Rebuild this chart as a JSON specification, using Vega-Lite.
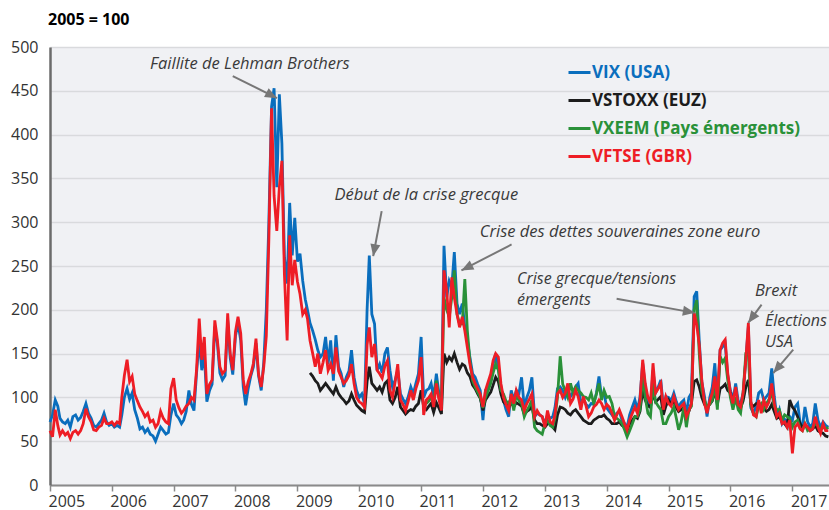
{
"$schema": "https://vega.github.io/schema/vega-lite/v6.json",
"width": 779, "height": 438,
"autosize": {"type": "none"},
"padding": {"left": 50, "top": 47, "right": 0, "bottom": 25},
"background": "white",
"title": {"text": "2005 = 100", "anchor": "start", "frame": "group", "orient": "top", "dx": -2, "offset": 11, "font": "Open Sans", "fontSize": 16, "fontWeight": "bold", "color": "#000000"},
"config": {"view": {"fill": "#F0F1F4", "stroke": null}, "font": "Open Sans"},
"data": {"values": [
{"d":"2005-01-01","a":72,"e":62},{"d":"2005-01-16","a":80,"e":55},{"d":"2005-02-01","a":97,"e":86},{"d":"2005-02-16","a":90,"e":68},{"d":"2005-03-01","a":76,"e":57},{"d":"2005-03-16","a":72,"e":62},{"d":"2005-04-01","a":70,"e":57},{"d":"2005-04-16","a":74,"e":60},{"d":"2005-05-01","a":66,"e":53},{"d":"2005-05-16","a":78,"e":60},{"d":"2005-06-01","a":80,"e":62},{"d":"2005-06-16","a":74,"e":58},{"d":"2005-07-01","a":77,"e":62},{"d":"2005-07-16","a":84,"e":70},{"d":"2005-08-01","a":93,"e":87},{"d":"2005-08-16","a":82,"e":78},{"d":"2005-09-01","a":76,"e":72},{"d":"2005-09-16","a":68,"e":63},{"d":"2005-10-01","a":66,"e":62},{"d":"2005-10-16","a":70,"e":66},{"d":"2005-11-01","a":74,"e":68},{"d":"2005-11-16","a":82,"e":76},{"d":"2005-12-01","a":72,"e":70},{"d":"2005-12-16","a":68,"e":70},
{"d":"2006-01-01","a":70,"e":72},{"d":"2006-01-16","a":66,"e":68},{"d":"2006-02-01","a":68,"e":72},{"d":"2006-02-16","a":66,"e":70},{"d":"2006-03-01","a":80,"e":100},{"d":"2006-03-16","a":100,"e":125},{"d":"2006-04-01","a":110,"e":143},{"d":"2006-04-16","a":98,"e":118},{"d":"2006-05-01","a":105,"e":124},{"d":"2006-05-16","a":86,"e":104},{"d":"2006-06-01","a":76,"e":96},{"d":"2006-06-16","a":64,"e":89},{"d":"2006-07-01","a":66,"e":84},{"d":"2006-07-16","a":60,"e":78},{"d":"2006-08-01","a":64,"e":82},{"d":"2006-08-16","a":58,"e":72},{"d":"2006-09-01","a":56,"e":74},{"d":"2006-09-16","a":50,"e":66},{"d":"2006-10-01","a":58,"e":70},{"d":"2006-10-16","a":66,"e":84},{"d":"2006-11-01","a":62,"e":76},{"d":"2006-11-16","a":58,"e":72},{"d":"2006-12-01","a":60,"e":70},{"d":"2006-12-16","a":80,"e":110},
{"d":"2007-01-01","a":93,"e":122},{"d":"2007-01-16","a":80,"e":97},{"d":"2007-02-01","a":76,"e":88},{"d":"2007-02-16","a":70,"e":82},{"d":"2007-03-01","a":74,"e":85},{"d":"2007-03-16","a":84,"e":90},{"d":"2007-04-01","a":108,"e":93},{"d":"2007-04-16","a":92,"e":100},{"d":"2007-05-01","a":85,"e":97},{"d":"2007-05-16","a":127,"e":131},{"d":"2007-06-01","a":166,"e":190},{"d":"2007-06-16","a":131,"e":143},{"d":"2007-07-01","a":150,"e":169},{"d":"2007-07-16","a":95,"e":104},{"d":"2007-08-01","a":108,"e":115},{"d":"2007-08-16","a":115,"e":120},{"d":"2007-09-01","a":181,"e":188},{"d":"2007-09-16","a":162,"e":166},{"d":"2007-10-01","a":128,"e":135},{"d":"2007-10-16","a":120,"e":127},{"d":"2007-11-01","a":125,"e":131},{"d":"2007-11-16","a":188,"e":196},{"d":"2007-12-01","a":145,"e":150},{"d":"2007-12-16","a":126,"e":131},
{"d":"2008-01-01","a":170,"e":175},{"d":"2008-01-16","a":185,"e":192},{"d":"2008-02-01","a":165,"e":173},{"d":"2008-02-16","a":112,"e":120},{"d":"2008-03-01","a":91,"e":104},{"d":"2008-03-16","a":110,"e":118},{"d":"2008-04-01","a":125,"e":127},{"d":"2008-04-16","a":135,"e":139},{"d":"2008-05-01","a":162,"e":167},{"d":"2008-05-16","a":125,"e":127},{"d":"2008-06-01","a":108,"e":112},{"d":"2008-06-16","a":140,"e":135},{"d":"2008-07-01","a":200,"e":170},{"d":"2008-07-16","a":300,"e":280},{"d":"2008-08-01","a":432,"e":430},{"d":"2008-08-16","a":453,"e":330},{"d":"2008-09-01","a":340,"e":290},{"d":"2008-09-16","a":446,"e":340},{"d":"2008-10-01","a":390,"e":370},{"d":"2008-10-16","a":260,"e":240},{"d":"2008-11-01","a":230,"e":165},{"d":"2008-11-16","a":322,"e":285},{"d":"2008-12-01","a":262,"e":228},{"d":"2008-12-16","a":305,"e":257},
{"d":"2009-01-01","a":255,"e":232},{"d":"2009-01-16","a":264,"e":218},{"d":"2009-02-01","a":233,"e":195},{"d":"2009-02-16","a":212,"e":200},{"d":"2009-03-01","a":200,"e":190},{"d":"2009-03-16","a":185,"b":128,"e":165},{"d":"2009-04-01","a":176,"b":124,"e":150},{"d":"2009-04-16","a":166,"b":119,"e":135},{"d":"2009-05-01","a":154,"b":116,"e":150},{"d":"2009-05-16","a":146,"b":108,"e":127},{"d":"2009-06-01","a":150,"b":112,"e":140},{"d":"2009-06-16","a":169,"b":116,"e":154},{"d":"2009-07-01","a":138,"b":112,"e":131},{"d":"2009-07-16","a":165,"b":108,"e":138},{"d":"2009-08-01","a":119,"b":104,"e":127},{"d":"2009-08-16","a":171,"b":112,"e":157},{"d":"2009-09-01","a":135,"b":104,"e":130},{"d":"2009-09-16","a":127,"b":100,"e":123},{"d":"2009-10-01","a":112,"b":97,"e":116},{"d":"2009-10-16","a":123,"b":93,"e":119},{"d":"2009-11-01","a":130,"b":96,"e":125},{"d":"2009-11-16","a":154,"b":104,"e":138},{"d":"2009-12-01","a":123,"b":97,"e":116},{"d":"2009-12-16","a":108,"b":91,"e":100},
{"d":"2010-01-01","a":100,"b":88,"e":95},{"d":"2010-01-16","a":104,"b":85,"e":93},{"d":"2010-02-01","a":93,"b":83,"e":89},{"d":"2010-02-16","a":200,"b":118,"e":160},{"d":"2010-03-01","a":262,"b":135,"e":180},{"d":"2010-03-16","a":195,"b":116,"e":146},{"d":"2010-04-01","a":184,"b":112,"e":161},{"d":"2010-04-16","a":131,"b":108,"e":131},{"d":"2010-05-01","a":138,"b":112,"e":127},{"d":"2010-05-16","a":128,"b":106,"e":122},{"d":"2010-06-01","a":150,"b":116,"e":136},{"d":"2010-06-16","a":157,"b":119,"e":142},{"d":"2010-07-01","a":131,"b":97,"e":108},{"d":"2010-07-16","a":112,"b":93,"e":100},{"d":"2010-08-01","a":120,"b":100,"e":118},{"d":"2010-08-16","a":131,"b":112,"e":138},{"d":"2010-09-01","a":104,"b":89,"e":97},{"d":"2010-09-16","a":98,"b":85,"e":92},{"d":"2010-10-01","a":93,"b":81,"e":85},{"d":"2010-10-16","a":100,"b":84,"e":95},{"d":"2010-11-01","a":112,"b":86,"e":108},{"d":"2010-11-16","a":104,"b":85,"e":97},{"d":"2010-12-01","a":116,"b":90,"e":110},{"d":"2010-12-16","a":127,"b":93,"e":119},
{"d":"2011-01-01","a":169,"b":108,"e":146},{"d":"2011-01-16","a":100,"b":89,"e":80},{"d":"2011-02-01","a":108,"b":86,"c":93,"e":97},{"d":"2011-02-16","a":110,"b":90,"c":96,"e":100},{"d":"2011-03-01","a":116,"b":93,"c":100,"e":104},{"d":"2011-03-16","a":100,"b":83,"c":96,"e":89},{"d":"2011-04-01","a":127,"b":94,"c":119,"e":116},{"d":"2011-04-16","a":105,"b":88,"c":100,"e":98},{"d":"2011-05-01","a":93,"b":81,"c":89,"e":85},{"d":"2011-05-16","a":273,"b":150,"c":214,"e":245},{"d":"2011-06-01","a":214,"b":140,"c":200,"e":222},{"d":"2011-06-16","a":233,"b":146,"c":192,"e":180},{"d":"2011-07-01","a":226,"b":142,"c":214,"e":237},{"d":"2011-07-16","a":266,"b":150,"c":245,"e":214},{"d":"2011-08-01","a":207,"b":140,"c":195,"e":195},{"d":"2011-08-16","a":195,"b":132,"c":184,"e":180},{"d":"2011-09-01","a":207,"b":138,"c":184,"e":192},{"d":"2011-09-16","a":180,"b":136,"c":235,"e":176},{"d":"2011-10-01","a":165,"b":128,"c":176,"e":157},{"d":"2011-10-16","a":146,"b":124,"c":142,"e":138},{"d":"2011-11-01","a":127,"b":114,"c":119,"e":123},{"d":"2011-11-16","a":123,"b":110,"c":112,"e":116},{"d":"2011-12-01","a":115,"b":104,"c":106,"e":110},{"d":"2011-12-16","a":108,"b":99,"c":100,"e":104},
{"d":"2012-01-01","a":74,"b":85,"c":88,"e":89},{"d":"2012-01-16","a":108,"b":97,"c":100,"e":108},{"d":"2012-02-01","a":112,"b":102,"c":108,"e":118},{"d":"2012-02-16","a":119,"b":106,"c":116,"e":127},{"d":"2012-03-01","a":138,"b":114,"c":128,"e":142},{"d":"2012-03-16","a":150,"b":123,"c":138,"e":150},{"d":"2012-04-01","a":135,"b":118,"c":131,"e":146},{"d":"2012-04-16","a":112,"b":104,"c":108,"e":116},{"d":"2012-05-01","a":97,"b":95,"c":104,"e":100},{"d":"2012-05-16","a":86,"b":92,"c":96,"e":92},{"d":"2012-06-01","a":78,"b":89,"c":93,"e":85},{"d":"2012-06-16","a":108,"b":94,"c":100,"e":104},{"d":"2012-07-01","a":97,"b":89,"c":85,"e":93},{"d":"2012-07-16","a":108,"b":94,"c":104,"e":108},{"d":"2012-08-01","a":105,"b":92,"c":96,"e":100},{"d":"2012-08-16","a":123,"b":90,"c":93,"e":97},{"d":"2012-09-01","a":89,"b":81,"c":78,"e":85},{"d":"2012-09-16","a":100,"b":84,"c":85,"e":93},{"d":"2012-10-01","a":108,"b":86,"c":90,"e":98},{"d":"2012-10-16","a":123,"b":90,"c":97,"e":104},{"d":"2012-11-01","a":78,"b":74,"c":66,"e":78},{"d":"2012-11-16","a":82,"b":70,"c":62,"e":85},{"d":"2012-12-01","a":80,"b":70,"c":60,"e":80},{"d":"2012-12-16","a":78,"b":68,"c":58,"e":78},
{"d":"2013-01-01","a":70,"b":66,"c":70,"e":66},{"d":"2013-01-16","a":80,"b":70,"c":74,"e":85},{"d":"2013-02-01","a":76,"b":70,"c":68,"e":72},{"d":"2013-02-16","a":78,"b":66,"c":66,"e":70},{"d":"2013-03-01","a":88,"b":63,"c":76,"e":80},{"d":"2013-03-16","a":110,"b":80,"c":100,"e":104},{"d":"2013-04-01","a":112,"b":89,"c":147,"e":108},{"d":"2013-04-16","a":108,"b":88,"c":115,"e":100},{"d":"2013-05-01","a":100,"b":86,"c":108,"e":105},{"d":"2013-05-16","a":108,"b":82,"c":100,"e":116},{"d":"2013-06-01","a":101,"b":80,"c":116,"e":93},{"d":"2013-06-16","a":106,"b":84,"c":105,"e":98},{"d":"2013-07-01","a":112,"b":86,"c":112,"e":108},{"d":"2013-07-16","a":116,"b":82,"c":108,"e":101},{"d":"2013-08-01","a":93,"b":78,"c":105,"e":86},{"d":"2013-08-16","a":98,"b":74,"c":101,"e":101},{"d":"2013-09-01","a":92,"b":72,"c":100,"e":90},{"d":"2013-09-16","a":89,"b":70,"c":97,"e":78},{"d":"2013-10-01","a":93,"b":70,"c":105,"e":82},{"d":"2013-10-16","a":92,"b":74,"c":93,"e":89},{"d":"2013-11-01","a":105,"b":76,"c":104,"e":92},{"d":"2013-11-16","a":124,"b":78,"c":116,"e":97},{"d":"2013-12-01","a":101,"b":78,"c":97,"e":93},{"d":"2013-12-16","a":105,"b":80,"c":108,"e":86},
{"d":"2014-01-01","a":88,"b":76,"c":100,"e":92},{"d":"2014-01-16","a":84,"b":74,"c":101,"e":89},{"d":"2014-02-01","a":80,"b":70,"c":93,"e":82},{"d":"2014-02-16","a":76,"b":70,"c":78,"e":74},{"d":"2014-03-01","a":82,"b":70,"c":76,"e":80},{"d":"2014-03-16","a":84,"b":72,"c":74,"e":86},{"d":"2014-04-01","a":74,"b":68,"c":70,"e":78},{"d":"2014-04-16","a":70,"b":66,"c":63,"e":70},{"d":"2014-05-01","a":66,"b":62,"c":55,"e":63},{"d":"2014-05-16","a":80,"b":70,"c":62,"e":74},{"d":"2014-06-01","a":89,"b":74,"c":70,"e":82},{"d":"2014-06-16","a":97,"b":78,"c":78,"e":89},{"d":"2014-07-01","a":86,"b":76,"c":78,"e":82},{"d":"2014-07-16","a":100,"b":84,"c":86,"e":96},{"d":"2014-08-01","a":139,"b":108,"c":124,"e":143},{"d":"2014-08-16","a":112,"b":97,"c":100,"e":116},{"d":"2014-09-01","a":95,"b":90,"c":82,"e":100},{"d":"2014-09-16","a":89,"b":89,"c":78,"e":93},{"d":"2014-10-01","a":131,"b":105,"c":116,"e":139},{"d":"2014-10-16","a":105,"b":95,"c":95,"e":105},{"d":"2014-11-01","a":112,"b":98,"c":90,"e":110},{"d":"2014-11-16","a":120,"b":101,"c":86,"e":116},{"d":"2014-12-01","a":89,"b":80,"c":70,"e":86},{"d":"2014-12-16","a":101,"b":90,"c":70,"e":101},
{"d":"2015-01-01","a":100,"b":97,"c":78,"e":93},{"d":"2015-01-16","a":96,"b":92,"c":82,"e":90},{"d":"2015-02-01","a":105,"b":95,"c":89,"e":101},{"d":"2015-02-16","a":95,"b":88,"c":76,"e":92},{"d":"2015-03-01","a":89,"b":84,"c":63,"e":86},{"d":"2015-03-16","a":94,"b":86,"c":72,"e":90},{"d":"2015-04-01","a":97,"b":89,"c":89,"e":93},{"d":"2015-04-16","a":82,"b":80,"c":66,"e":78},{"d":"2015-05-01","a":100,"b":84,"c":86,"e":85},{"d":"2015-05-16","a":105,"b":93,"c":90,"e":93},{"d":"2015-06-01","a":215,"b":118,"c":200,"e":196},{"d":"2015-06-16","a":221,"b":120,"c":211,"e":183},{"d":"2015-07-01","a":165,"b":112,"c":150,"e":160},{"d":"2015-07-16","a":118,"b":100,"c":108,"e":120},{"d":"2015-08-01","a":101,"b":92,"c":97,"e":93},{"d":"2015-08-16","a":78,"b":89,"c":89,"e":82},{"d":"2015-09-01","a":100,"b":92,"c":92,"e":96},{"d":"2015-09-16","a":112,"b":96,"c":97,"e":105},{"d":"2015-10-01","a":139,"b":108,"c":115,"e":124},{"d":"2015-10-16","a":93,"b":92,"c":86,"e":97},{"d":"2015-11-01","a":154,"b":110,"c":147,"e":154},{"d":"2015-11-16","a":158,"b":112,"c":140,"e":162},{"d":"2015-12-01","a":162,"b":115,"c":145,"e":166},{"d":"2015-12-16","a":125,"b":108,"c":120,"e":128},
{"d":"2016-01-01","a":108,"b":105,"c":100,"e":105},{"d":"2016-01-16","a":97,"b":93,"c":86,"e":93},{"d":"2016-02-01","a":116,"b":97,"c":100,"e":112},{"d":"2016-02-16","a":96,"b":92,"c":86,"e":92},{"d":"2016-03-01","a":93,"b":88,"c":82,"e":89},{"d":"2016-03-16","a":105,"b":96,"c":105,"e":105},{"d":"2016-04-01","a":143,"b":112,"c":150,"e":143},{"d":"2016-04-16","a":181,"b":120,"c":150,"e":185},{"d":"2016-05-01","a":88,"b":92,"c":90,"e":95},{"d":"2016-05-16","a":82,"b":90,"c":82,"e":80},{"d":"2016-06-01","a":90,"b":93,"c":78,"e":78},{"d":"2016-06-16","a":105,"b":93,"c":90,"e":97},{"d":"2016-07-01","a":108,"b":89,"c":93,"e":82},{"d":"2016-07-16","a":97,"b":88,"c":86,"e":97},{"d":"2016-08-01","a":101,"b":84,"c":93,"e":89},{"d":"2016-08-16","a":105,"b":86,"c":98,"e":95},{"d":"2016-09-01","a":133,"b":92,"c":105,"e":116},{"d":"2016-09-16","a":101,"b":84,"c":90,"e":93},{"d":"2016-10-01","a":78,"b":76,"c":86,"e":78},{"d":"2016-10-16","a":86,"b":78,"c":86,"e":82},{"d":"2016-11-01","a":70,"b":72,"c":74,"e":70},{"d":"2016-11-16","a":75,"b":70,"c":80,"e":72},{"d":"2016-12-01","a":72,"b":66,"c":78,"e":66},{"d":"2016-12-16","a":78,"b":97,"c":76,"e":74},
{"d":"2017-01-01","a":74,"b":89,"c":66,"e":36},{"d":"2017-01-16","a":89,"b":85,"c":72,"e":66},{"d":"2017-02-01","a":93,"b":78,"c":74,"e":70},{"d":"2017-02-16","a":70,"b":70,"c":64,"e":64},{"d":"2017-03-01","a":66,"b":66,"c":62,"e":62},{"d":"2017-03-16","a":89,"b":68,"c":70,"e":70},{"d":"2017-04-01","a":72,"b":66,"c":62,"e":66},{"d":"2017-04-16","a":66,"b":62,"c":64,"e":62},{"d":"2017-05-01","a":70,"b":64,"c":66,"e":64},{"d":"2017-05-16","a":93,"b":68,"c":70,"e":78},{"d":"2017-06-01","a":74,"b":62,"c":68,"e":66},{"d":"2017-06-16","a":66,"b":60,"c":64,"e":59},{"d":"2017-07-01","a":72,"b":59,"c":66,"e":70},{"d":"2017-07-16","a":68,"b":56,"c":64,"e":62},{"d":"2017-08-01","a":66,"b":55,"c":66,"e":62}
]},
"layer": [
{"mark": {"type": "line", "strokeWidth": 2.8},
 "encoding": {
  "x": {"field": "d", "type": "temporal", "title": null,
   "scale": {"domain": [{"year": 2005, "month": 1, "date": 1}, {"year": 2017, "month": 8, "date": 5}]},
   "axis": {"format": "%Y", "tickCount": {"interval": "year", "step": 1}, "labelAlign": "left", "labelBaseline": "alphabetic", "labelOffset": -2, "labelFont": "Open Sans", "labelFontSize": 16, "labelColor": "#333333", "labelPadding": 15, "tickSize": 6, "tickColor": "#8a8a8a", "tickWidth": 1.5, "domainColor": "#8a8a8a", "domainWidth": 2, "grid": false, "labelOverlap": false, "labelFlush": false, "labelBound": false}},
  "y": {"field": "a", "type": "quantitative", "title": null,
   "scale": {"domain": [0, 500], "nice": false},
   "axis": {"values": [0,50,100,150,200,250,300,350,400,450,500], "labelFont": "Open Sans", "labelFontSize": 16, "labelColor": "#333333", "labelPadding": 12, "ticks": false, "tickSize": 0, "labelFlush": false, "domainColor": "#6b6b6b", "domainWidth": 2.5, "grid": true, "gridColor": "#D9DADD", "gridWidth": 1.5}},
  "color": {"datum": "VIX (USA)", "type": "nominal",
   "scale": {"domain": ["VIX (USA)", "VSTOXX (EUZ)", "VXEEM (Pays émergents)", "VFTSE (GBR)"], "range": ["#0A6EBD", "#1C1C1C", "#2A9139", "#EE1D25"]},
   "legend": {"orient": "none", "legendX": 517, "legendY": 13, "title": null, "symbolType": "stroke", "symbolSize": 484, "symbolStrokeWidth": 3, "labelFont": "Open Sans", "labelFontSize": 17, "labelFontWeight": "bold", "labelLimit": 0, "labelColor": {"expr": "scale('color', datum.value)"}, "rowPadding": 7, "labelOffset": 0, "padding": 0}}
 }},
{"mark": {"type": "line", "strokeWidth": 2.8},
 "encoding": {"x": {"field": "d", "type": "temporal", "title": null}, "y": {"field": "b", "type": "quantitative", "title": null}, "color": {"datum": "VSTOXX (EUZ)", "type": "nominal"}}},
{"mark": {"type": "line", "strokeWidth": 2.8},
 "encoding": {"x": {"field": "d", "type": "temporal", "title": null}, "y": {"field": "c", "type": "quantitative", "title": null}, "color": {"datum": "VXEEM (Pays émergents)", "type": "nominal"}}},
{"mark": {"type": "line", "strokeWidth": 2.8},
 "encoding": {"x": {"field": "d", "type": "temporal", "title": null}, "y": {"field": "e", "type": "quantitative", "title": null}, "color": {"datum": "VFTSE (GBR)", "type": "nominal"}}},
{"data": {"values": [
  {"x1": "2007-12-16", "y1": 466.8, "x2": "2008-09-02", "y2": 441.6},
  {"x1": "2010-05-13", "y1": 312.7, "x2": "2010-03-24", "y2": 261.2},
  {"x1": "2012-06-18", "y1": 274.6, "x2": "2011-08-27", "y2": 244.9},
  {"x1": "2014-02-28", "y1": 212.5, "x2": "2015-06-05", "y2": 196.5},
  {"x1": "2016-07-03", "y1": 206, "x2": "2016-04-15", "y2": 185},
  {"x1": "2017-01-06", "y1": 154.5, "x2": "2016-09-10", "y2": 127.8}]},
 "mark": {"type": "rule", "color": "#777777", "strokeWidth": 2},
 "encoding": {"x": {"field": "x1", "type": "temporal", "title": null}, "y": {"field": "y1", "type": "quantitative", "title": null}, "x2": {"field": "x2"}, "y2": {"field": "y2"}}},
{"data": {"values": [{"x": "2008-09-02", "y": 441.6}]},
 "mark": {"type": "point", "shape": "M0,0L-1,-0.42L-1,0.42Z", "filled": true, "color": "#777777", "opacity": 1, "size": 576, "angle": 27.6},
 "encoding": {"x": {"field": "x", "type": "temporal", "title": null}, "y": {"field": "y", "type": "quantitative", "title": null}}},
{"data": {"values": [{"x": "2010-03-24", "y": 261.2}]},
 "mark": {"type": "point", "shape": "M0,0L-1,-0.42L-1,0.42Z", "filled": true, "color": "#777777", "opacity": 1, "size": 576, "angle": 100.6},
 "encoding": {"x": {"field": "x", "type": "temporal", "title": null}, "y": {"field": "y", "type": "quantitative", "title": null}}},
{"data": {"values": [{"x": "2011-08-27", "y": 244.9}]},
 "mark": {"type": "point", "shape": "M0,0L-1,-0.42L-1,0.42Z", "filled": true, "color": "#777777", "opacity": 1, "size": 576, "angle": 152.5},
 "encoding": {"x": {"field": "x", "type": "temporal", "title": null}, "y": {"field": "y", "type": "quantitative", "title": null}}},
{"data": {"values": [{"x": "2015-06-05", "y": 196.5}]},
 "mark": {"type": "point", "shape": "M0,0L-1,-0.42L-1,0.42Z", "filled": true, "color": "#777777", "opacity": 1, "size": 576, "angle": 10.1},
 "encoding": {"x": {"field": "x", "type": "temporal", "title": null}, "y": {"field": "y", "type": "quantitative", "title": null}}},
{"data": {"values": [{"x": "2016-04-15", "y": 185}]},
 "mark": {"type": "point", "shape": "M0,0L-1,-0.42L-1,0.42Z", "filled": true, "color": "#777777", "opacity": 1, "size": 576, "angle": 126.2},
 "encoding": {"x": {"field": "x", "type": "temporal", "title": null}, "y": {"field": "y", "type": "quantitative", "title": null}}},
{"data": {"values": [{"x": "2016-09-10", "y": 127.8}]},
 "mark": {"type": "point", "shape": "M0,0L-1,-0.42L-1,0.42Z", "filled": true, "color": "#777777", "opacity": 1, "size": 576, "angle": 130.6},
 "encoding": {"x": {"field": "x", "type": "temporal", "title": null}, "y": {"field": "y", "type": "quantitative", "title": null}}},
{"data": {"values": [
  {"t": "Faillite de Lehman Brothers", "x": "2008-03-26", "y": 475},
  {"t": "Début de la crise grecque", "x": "2011-02-01", "y": 325},
  {"t": "Crise des dettes souveraines zone euro", "x": "2014-03-20", "y": 282.6},
  {"t": "Brexit", "x": "2016-09-26", "y": 216}]},
 "mark": {"type": "text", "font": "Open Sans", "fontStyle": "italic", "fontSize": 16.5, "color": "#3a3a3a", "align": "center", "baseline": "alphabetic"},
 "encoding": {"x": {"field": "x", "type": "temporal", "title": null}, "y": {"field": "y", "type": "quantitative", "title": null}, "text": {"field": "t"}}},
{"data": {"values": [
  {"t": "Crise grecque/tensions\némergents", "x": "2012-07-20", "y": 229.5}]},
 "mark": {"type": "text", "font": "Open Sans", "fontStyle": "italic", "fontSize": 16, "color": "#3a3a3a", "align": "left", "baseline": "alphabetic", "lineBreak": "\n", "lineHeight": 21},
 "encoding": {"x": {"field": "x", "type": "temporal", "title": null}, "y": {"field": "y", "type": "quantitative", "title": null}, "text": {"field": "t"}}},
{"data": {"values": [
  {"t": "Élections\nUSA", "x": "2016-07-23", "y": 181.5}]},
 "mark": {"type": "text", "font": "Open Sans", "fontStyle": "italic", "fontSize": 16, "color": "#3a3a3a", "align": "left", "baseline": "alphabetic", "lineBreak": "\n", "lineHeight": 21},
 "encoding": {"x": {"field": "x", "type": "temporal", "title": null}, "y": {"field": "y", "type": "quantitative", "title": null}, "text": {"field": "t"}}}
]
}
